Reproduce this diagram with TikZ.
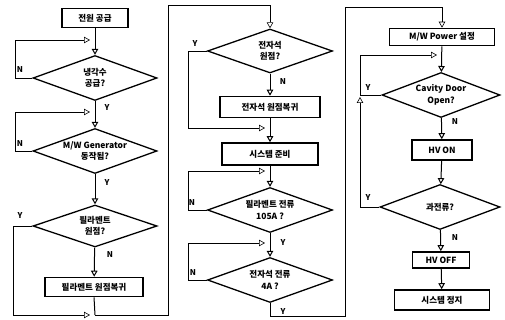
\documentclass[tikz,border=0pt]{standalone}
\usepackage{fontspec}
\setmainfont{Noto Sans CJK KR}
\usetikzlibrary{arrows.meta,shapes.geometric}
\tikzset{
  flow/.style={line width=1pt,-{Triangle[open,length=6pt,width=6.5pt]}},
  plain/.style={line width=1pt},
  loopline/.style={line width=0.6pt},
  looparrow/.style={line width=0.6pt,-{Triangle[open,length=6pt,width=6.5pt]},shorten >=5pt},
  procbox/.style={draw,line width=1.6pt,minimum height=19pt,inner sep=1pt,font=\fontsize{8.5}{10}\selectfont\bfseries},
  decision/.style={draw,diamond,line width=1.3pt,aspect=2.75,inner sep=-5pt,minimum width=124pt,minimum height=45pt,align=center,font=\fontsize{8.5}{11.5}\selectfont\bfseries},
  lbl/.style={font=\fontsize{8}{8}\selectfont\bfseries,inner sep=0pt}
}
\begin{document}
\begin{tikzpicture}[x=1pt,y=-1pt]
\useasboundingbox (0,0) rectangle (505,320);
% column 1
\node[procbox,minimum width=66pt] (p1) at (95,18) {전원 공급};
\node[decision] (d1) at (95,78) {냉각수\\공급?};
\node[decision] (d2) at (95,151) {M/W Generator\\동작됨?};
\node[decision,minimum height=42pt] (d3) at (95,226) {필라멘트\\원점?};
\node[procbox,minimum width=98pt] (b2) at (94,287) {필라멘트 원점복귀};
% column 2
\node[decision,minimum width=125pt,minimum height=44pt] (d4) at (270,51) {전자석\\원점?};
\node[procbox,minimum width=100pt,minimum height=21pt] (b3) at (270,107) {전자석 원점복귀};
\node[procbox,minimum width=96pt,minimum height=22pt] (b4) at (270,154) {시스템 준비};
\node[decision,minimum width=125pt] (d5) at (270,210) {필라멘트 전류\\105A ?};
\node[decision,minimum width=125pt] (d6) at (270,280) {전자석 전류\\4A ?};
% column 3
\node[procbox,minimum width=105pt,minimum height=17pt] (b5) at (442,37) {M/W Power 설정};
\node[decision,minimum width=118pt] (d7) at (441,95) {Cavity Door\\Open?};
\node[procbox,minimum width=60pt,minimum height=20pt] (b6) at (442,150) {HV ON};
\node[decision,minimum width=120pt] (d8) at (440,207) {과전류?};
\node[procbox,minimum width=57pt,minimum height=16pt] (b7) at (441,260) {HV OFF};
\node[procbox,minimum width=95pt,minimum height=20pt] (b8) at (442,300) {시스템 정지};
% junction coordinates
\coordinate (j1) at (95,40);
\coordinate (j2) at (95,112);
\coordinate (j3) at (95,315);
\coordinate (j4) at (270,128);
\coordinate (j5) at (270,171);
\coordinate (j6) at (270,243);
\coordinate (j7) at (442,55);
\coordinate (j8) at (360,97);
% column 1 flow
\draw[flow] (p1) -- (d1);
\draw[looparrow] (d1.west) -- (15,78) -- (15,40) -- (j1);
\draw[flow] (d1) -- (d2);
\draw[looparrow] (d2.west) -- (15,151) -- (15,112) -- (j2);
\draw[flow] (d2) -- (d3);
\draw[flow] (d3) -- (b2);
\draw[looparrow] (d3.west) -- (13,226) -- (13,315) -- (j3);
\draw[plain] (b2.south) -- (j3);
\draw[loopline,-{Triangle[open,length=6pt,width=6.5pt]}] (j3) -- (168,315) -- (168,5) -- (270,5) -- (d4.north);
% column 2 flow
\draw[flow] (d4) -- (b3);
\draw[looparrow] (d4.west) -- (188,51) -- (188,128) -- (j4);
\draw[flow] (b3) -- (b4);
\draw[flow] (b4) -- (d5);
\draw[looparrow] (d5.west) -- (188,210) -- (188,171) -- (j5);
\draw[flow] (d5) -- (d6);
\draw[looparrow] (d6.west) -- (188,280) -- (188,243) -- (j6);
\draw[loopline,-{Triangle[open,length=6pt,width=6.5pt]}] (d6.south) -- (270,316) -- (345,316) -- (345,7) -- (442,7) -- (b5.north);
% column 3 flow
\draw[flow] (b5) -- (d7);
\draw[looparrow] (d7.west) -- (360,95) -- (360,55) -- (j7);
\draw[flow] (d7) -- (b6);
\draw[flow] (b6) -- (d8);
\draw[loopline,-{Triangle[open,length=6pt,width=6.5pt]}] (d8.west) -- (360,207) -- (j8);
\draw[flow] (d8) -- (b7);
\draw[flow] (b7) -- (b8);
% labels
\node[lbl] at (20,70) {N};
\node[lbl] at (107,108) {Y};
\node[lbl] at (20,144) {N};
\node[lbl] at (107,183) {Y};
\node[lbl] at (20,216) {Y};
\node[lbl] at (110,255) {N};
\node[lbl] at (195,44) {Y};
\node[lbl] at (283,82) {N};
\node[lbl] at (192,203) {N};
\node[lbl] at (283,243) {Y};
\node[lbl] at (193,273) {N};
\node[lbl] at (283,312) {Y};
\node[lbl] at (368,88) {Y};
\node[lbl] at (455,122) {N};
\node[lbl] at (368,198) {Y};
\node[lbl] at (455,238) {N};
\end{tikzpicture}
\end{document}
